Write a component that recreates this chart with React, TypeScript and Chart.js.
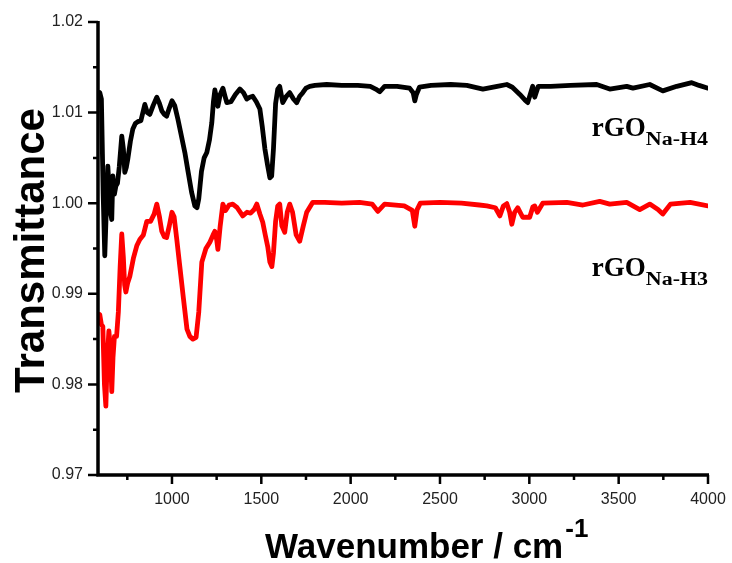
import React, { useEffect, useRef } from "react";
import { Chart, registerables } from "chart.js";

Chart.register(...registerables);

// ---- Data: [wavenumber, transmittance] ----
const h4Spectrum: [number, number][] = [
  [586, 1.0120], [596, 1.0122], [605, 1.0115], [615, 1.0010], [624, 0.9942], [632, 0.9990], [641, 1.0041], [650, 1.0010],
  [656, 0.9990], [663, 0.9982], [669, 1.0030], [678, 1.0010], [686, 1.0019], [695, 1.0022], [705, 1.0040], [719, 1.0074],
  [728, 1.0060], [736, 1.0034], [745, 1.0040], [753, 1.0049], [767, 1.0068], [781, 1.0082], [795, 1.0088], [809, 1.0090],
  [826, 1.0091], [848, 1.0109], [862, 1.0100], [876, 1.0098], [895, 1.0108], [915, 1.0117], [930, 1.0110], [943, 1.0102],
  [957, 1.0098], [970, 1.0096], [985, 1.0105], [1000, 1.0113], [1015, 1.0108], [1033, 1.0093], [1052, 1.0075], [1072, 1.0056],
  [1090, 1.0035], [1110, 1.0012], [1128, 0.9997], [1140, 0.9995], [1150, 1.0005], [1165, 1.0035], [1180, 1.0050], [1195, 1.0056],
  [1210, 1.0070], [1223, 1.0089], [1232, 1.0112], [1240, 1.0125], [1250, 1.0115], [1257, 1.0107], [1270, 1.0120], [1285, 1.0127],
  [1297, 1.0118], [1307, 1.0111], [1330, 1.0112], [1355, 1.0120], [1380, 1.0126], [1400, 1.0122], [1419, 1.0115], [1435, 1.0117],
  [1452, 1.0118], [1472, 1.0112], [1492, 1.0104], [1505, 1.0085], [1520, 1.0060], [1535, 1.0042], [1548, 1.0028], [1558, 1.0030],
  [1568, 1.0060], [1580, 1.0110], [1592, 1.0126], [1603, 1.0129], [1620, 1.0111], [1640, 1.0118], [1659, 1.0122], [1680, 1.0115],
  [1698, 1.0111], [1715, 1.0118], [1732, 1.0122], [1750, 1.0127], [1771, 1.0129], [1800, 1.0130], [1866, 1.0131], [1950, 1.0130],
  [2040, 1.0130], [2110, 1.0129], [2140, 1.0126], [2163, 1.0123], [2190, 1.0129], [2260, 1.0129], [2330, 1.0127], [2350, 1.0122],
  [2359, 1.0113], [2368, 1.0120], [2385, 1.0128], [2450, 1.0130], [2560, 1.0131], [2650, 1.0130], [2740, 1.0126], [2820, 1.0129],
  [2874, 1.0131], [2905, 1.0128], [2947, 1.0120], [2975, 1.0114], [2991, 1.0111], [3005, 1.0120], [3019, 1.0129], [3030, 1.0117],
  [3050, 1.0129], [3120, 1.0129], [3230, 1.0130], [3377, 1.0131], [3450, 1.0126], [3545, 1.0129], [3580, 1.0127], [3674, 1.0131],
  [3747, 1.0124], [3825, 1.0129], [3909, 1.0133], [3950, 1.0130], [4000, 1.0127],
];

const h3Spectrum: [number, number][] = [
  [586, 0.9875], [596, 0.9877], [605, 0.9866], [613, 0.9864], [622, 0.9800], [630, 0.9776], [638, 0.9830], [647, 0.9859],
  [655, 0.9840], [663, 0.9792], [670, 0.9830], [678, 0.9853], [690, 0.9853], [700, 0.9880], [710, 0.9930], [719, 0.9966],
  [728, 0.9940], [735, 0.9910], [742, 0.9902], [752, 0.9912], [764, 0.9919], [785, 0.9940], [803, 0.9953], [820, 0.9960],
  [840, 0.9965], [859, 0.9980], [880, 0.9980], [900, 0.9988], [915, 0.9999], [930, 0.9985], [943, 0.9969], [957, 0.9963],
  [970, 0.9962], [985, 0.9975], [1000, 0.9990], [1012, 0.9985], [1027, 0.9960], [1044, 0.9930], [1064, 0.9895], [1084, 0.9861],
  [1100, 0.9853], [1117, 0.9850], [1135, 0.9852], [1150, 0.9880], [1167, 0.9935], [1190, 0.9950], [1212, 0.9957], [1230, 0.9965],
  [1240, 0.9969], [1250, 0.9960], [1257, 0.9949], [1270, 0.9975], [1285, 0.9999], [1300, 0.9992], [1320, 0.9998], [1340, 0.9999],
  [1365, 0.9995], [1396, 0.9986], [1420, 0.9990], [1440, 0.9989], [1460, 0.9993], [1475, 0.9999], [1492, 0.9988], [1508, 0.9979],
  [1522, 0.9965], [1536, 0.9952], [1548, 0.9935], [1559, 0.9930], [1568, 0.9945], [1580, 0.9980], [1592, 0.9997], [1603, 0.9999],
  [1615, 0.9975], [1631, 0.9968], [1645, 0.9990], [1659, 0.9999], [1675, 0.9990], [1695, 0.9965], [1715, 0.9958], [1735, 0.9975],
  [1754, 0.9990], [1788, 1.0001], [1855, 1.0001], [1950, 1.0000], [2050, 1.0001], [2120, 0.9999], [2152, 0.9991], [2190, 0.9999],
  [2300, 0.9997], [2345, 0.9992], [2359, 0.99746], [2372, 0.9993], [2390, 1.0000], [2500, 1.0001], [2620, 1.0000], [2720, 0.9998],
  [2762, 0.9997], [2810, 0.9995], [2835, 0.9986], [2855, 0.9997], [2874, 0.99995], [2890, 0.9990], [2902, 0.99768], [2918, 0.9990],
  [2935, 0.9995], [2963, 0.99845], [3002, 0.99845], [3020, 0.9996], [3030, 0.9997], [3045, 0.9990], [3075, 1.0000], [3210, 1.0001],
  [3300, 0.9998], [3394, 1.0002], [3450, 0.9999], [3545, 1.0001], [3618, 0.9993], [3674, 0.9999], [3720, 0.9993], [3747, 0.9988],
  [3790, 0.9999], [3900, 1.0001], [4000, 0.9997],
];

const xMin = 586;
const xMax = 4000;
const yMin = 0.97;
const yMax = 1.02;
const xMajorTicks = [1000, 1500, 2000, 2500, 3000, 3500, 4000];
const xMinorTicks = [750, 1250, 1750, 2250, 2750, 3250, 3750];
const yMajorTicks = [0.97, 0.98, 0.99, 1.0, 1.01, 1.02];
const yMinorTicks = [0.975, 0.985, 0.995, 1.005, 1.015];
const seriesLabels = [
  { main: "rGO", sub: "Na-H4", y: 1.0074 },
  { main: "rGO", sub: "Na-H3", y: 0.9920 },
];
const xTitle = "Wavenumber / cm";
const xTitleSup = "-1";
const yTitle = "Transmittance";

const SANS = "'Liberation Sans', Arial, sans-serif";
const SERIF = "'Liberation Serif', 'Times New Roman', serif";

const decorPlugin = {
  id: "decor",
  afterDraw(chart: any) {
    const ctx = chart.ctx as CanvasRenderingContext2D;
    const xs = chart.scales.x;
    const ys = chart.scales.y;
    const { left, right, top, bottom } = chart.chartArea;
    ctx.save();
    ctx.strokeStyle = "#000";
    ctx.lineWidth = 2.5;
    ctx.lineCap = "butt";
    ctx.beginPath();
    for (const v of yMajorTicks) {
      const y = ys.getPixelForValue(v);
      ctx.moveTo(left - 10, y);
      ctx.lineTo(left, y);
    }
    for (const v of yMinorTicks) {
      const y = ys.getPixelForValue(v);
      ctx.moveTo(left - 5, y);
      ctx.lineTo(left, y);
    }
    for (const v of xMajorTicks) {
      const x = xs.getPixelForValue(v);
      ctx.moveTo(x, bottom);
      ctx.lineTo(x, bottom + 9);
    }
    for (const v of xMinorTicks) {
      const x = xs.getPixelForValue(v);
      ctx.moveTo(x, bottom);
      ctx.lineTo(x, bottom + 5);
    }
    ctx.stroke();
    ctx.lineWidth = 3.5;
    ctx.lineJoin = "miter";
    ctx.beginPath();
    ctx.moveTo(left, top - 1);
    ctx.lineTo(left, bottom);
    ctx.lineTo(right + 1, bottom);
    ctx.stroke();

    ctx.fillStyle = "#000";
    ctx.save();
    ctx.translate(44, (top + bottom) / 2 + 2);
    ctx.rotate(-Math.PI / 2);
    ctx.font = `bold 42px ${SANS}`;
    ctx.textAlign = "center";
    ctx.textBaseline = "alphabetic";
    ctx.fillText(yTitle, 0, 0);
    ctx.restore();

    ctx.font = `bold 35px ${SANS}`;
    ctx.textAlign = "left";
    ctx.textBaseline = "alphabetic";
    const xt = 265;
    ctx.fillText(xTitle, xt, 558);
    const w = ctx.measureText(xTitle).width;
    ctx.font = `bold 26px ${SANS}`;
    ctx.fillText(xTitleSup, xt + w + 2, 537);

    for (const lab of seriesLabels) {
      const base = ys.getPixelForValue(lab.y);
      ctx.font = `bold 18px ${SERIF}`;
      const subW = ctx.measureText(lab.sub).width * 1.22;
      ctx.font = `bold 27px ${SERIF}`;
      const mainW = ctx.measureText(lab.main).width;
      const startX = right - subW - mainW;
      ctx.fillText(lab.main, startX, base);
      ctx.save();
      ctx.translate(startX + mainW, base + 9);
      ctx.scale(1.22, 1);
      ctx.font = `bold 18px ${SERIF}`;
      ctx.fillText(lab.sub, 0, 0);
      ctx.restore();
    }
    ctx.restore();
  },
};

export default function App() {
  const ref = useRef<HTMLCanvasElement | null>(null);
  useEffect(() => {
    if (!ref.current) return;
    const toPts = (arr: [number, number][]) => arr.map(([x, y]) => ({ x, y }));
    const chart = new Chart(ref.current, {
      type: "line",
      data: {
        datasets: [
          {
            label: "rGO Na-H4",
            data: toPts(h4Spectrum),
            borderColor: "#000000",
            borderWidth: 4.8,
            borderJoinStyle: "round",
            borderCapStyle: "round",
            pointRadius: 0,
            tension: 0,
            fill: false,
          },
          {
            label: "rGO Na-H3",
            data: toPts(h3Spectrum),
            borderColor: "#ff0000",
            borderWidth: 4.8,
            borderJoinStyle: "round",
            borderCapStyle: "round",
            pointRadius: 0,
            tension: 0,
            fill: false,
          },
        ],
      },
      options: {
        animation: false,
        responsive: false,
        devicePixelRatio: 1,
        layout: { padding: { left: 0, top: 22, right: 24, bottom: 0 } },
        plugins: { legend: { display: false }, tooltip: { enabled: false } },
        scales: {
          x: {
            type: "linear",
            min: xMin,
            max: xMax,
            grid: { display: false, drawTicks: false },
            border: { display: false },
            afterFit: (s: any) => {
              s.height = 88;
              s.paddingLeft = 0;
              s.paddingRight = 0;
            },
            afterBuildTicks: (s: any) => {
              s.ticks = xMajorTicks.map((v) => ({ value: v }));
            },
            ticks: {
              padding: 15,
              color: "#222",
              font: { family: SANS, size: 16 },
              maxRotation: 0,
              autoSkip: false,
              callback: (v: any) => String(v),
            },
          },
          y: {
            type: "linear",
            min: yMin,
            max: yMax,
            grid: { display: false, drawTicks: false },
            border: { display: false },
            afterFit: (s: any) => {
              s.width = 98;
              s.paddingTop = 0;
              s.paddingBottom = 0;
            },
            afterBuildTicks: (s: any) => {
              s.ticks = yMajorTicks.map((v) => ({ value: v }));
            },
            ticks: {
              padding: 15,
              color: "#222",
              font: { family: SANS, size: 16 },
              autoSkip: false,
              callback: (v: any) => Number(v).toFixed(2),
            },
          },
        },
      },
      plugins: [decorPlugin],
    });
    return () => chart.destroy();
  }, []);
  return (
    <div style={{ position: "fixed", left: 0, top: 0, width: 732, height: 563, background: "#fff" }}>
      <canvas ref={ref} width={732} height={563} style={{ width: 732, height: 563, display: "block" }} />
    </div>
  );
}
